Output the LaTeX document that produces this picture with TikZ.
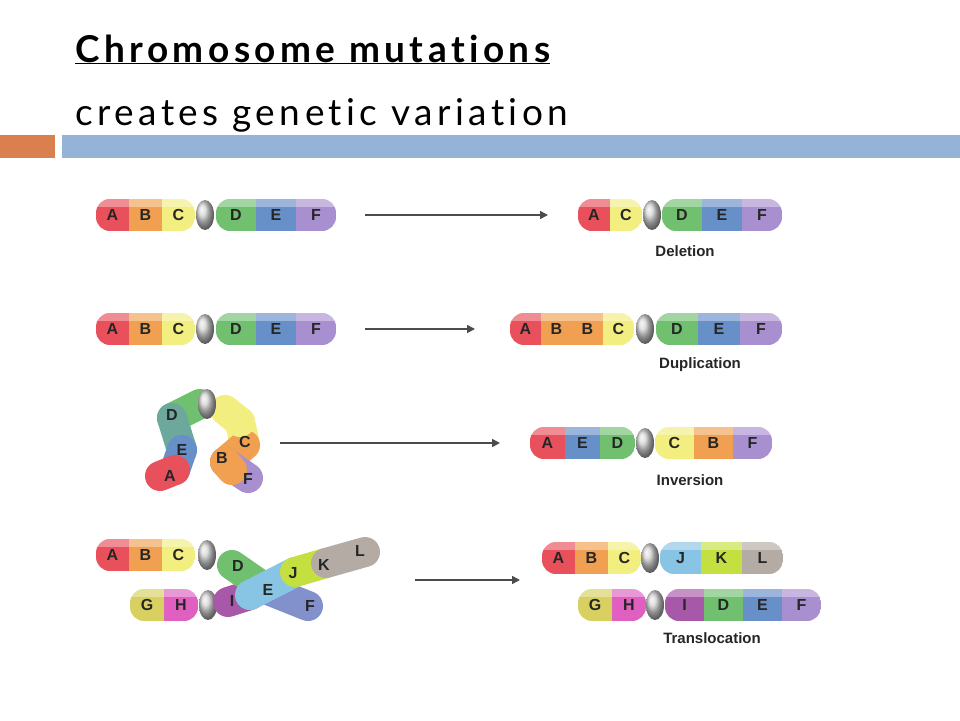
\documentclass[tikz,border=0pt]{standalone}
\usepackage{fontspec}
\setmainfont{Lato}
\newfontfamily\tfont[LetterSpace=12,Ligatures=NoCommon]{Lato}
\newfontfamily\lab{Liberation Sans}
\usetikzlibrary{arrows.meta}
\definecolor{cA}{HTML}{E8505B}\definecolor{cB}{HTML}{F0A050}\definecolor{cC}{HTML}{F2EE80}
\definecolor{cD}{HTML}{70C070}\definecolor{cE}{HTML}{6890C8}\definecolor{cF}{HTML}{A890D0}
\definecolor{cG}{HTML}{D8D060}\definecolor{cH}{HTML}{E060C0}\definecolor{cI}{HTML}{A858A8}
\definecolor{cJ}{HTML}{88C4E4}\definecolor{cK}{HTML}{C4E040}\definecolor{cL}{HTML}{B4ACA4}
\definecolor{barb}{HTML}{94B3D6}\definecolor{baro}{HTML}{D9804E}
\tikzset{lt/.style={font=\lab\bfseries\fontsize{16}{16}\selectfont,text=black!85,inner sep=0pt},
 arr/.style={draw=black!70,line width=1.6pt,-{Triangle[length=8pt,width=8pt]}},
 tl/.style={font=\lab\bfseries\fontsize{15}{15}\selectfont,text=black!85}}
\newcommand\arm[5]{\begin{scope}\clip[rounded corners=14pt] (#1,#4-16) rectangle ({#1+#2*#3},#4+16);
\foreach \l/\c [count=\i] in {#5}{\fill[\c] ({#1+(\i-1)*#2},#4-16) rectangle ++(#2,32); \node[lt] at ({#1+(\i-0.5)*#2},#4) {\l};}
\fill[white,opacity=.35] (#1,#4-16) rectangle ({#1+#2*#3},#4-8);
\end{scope}}
\newcommand\cen[2]{\shade[ball color=gray!35] (#1,#2) ellipse (9 and 15);}
\newcommand\seg[3]{\draw[line width=30pt,line cap=round,#3] #1 -- #2;}
\begin{document}
\begin{tikzpicture}[x=1pt,y=-1pt]
\useasboundingbox (0,0) rectangle (960,720);
\fill[white] (0,0) rectangle (960,720);
\node[anchor=base west,inner sep=0pt,font=\tfont\bfseries\fontsize{37}{37}\selectfont] (t1) at (75,62) {\underline{Chromosome mutations}};
\node[anchor=base west,inner sep=0pt,font=\tfont\fontsize{37}{37}\selectfont] (t2) at (75,125) {creates genetic variation};
\fill[baro] (0,135) rectangle (55,158);
\fill[barb] (62,135) rectangle (960,158);
% row 1
\arm{96}{33}{3}{215}{A/cA,B/cB,C/cC}\cen{205}{215}\arm{216}{40}{3}{215}{D/cD,E/cE,F/cF}
\draw[arr] (365,215) -- (548,215);
\arm{578}{32}{2}{215}{A/cA,C/cC}\cen{652}{215}\arm{662}{40}{3}{215}{D/cD,E/cE,F/cF}
\node[tl] at (685,251) {Deletion};
% row 2
\arm{96}{33}{3}{329}{A/cA,B/cB,C/cC}\cen{205}{329}\arm{216}{40}{3}{329}{D/cD,E/cE,F/cF}
\draw[arr] (365,329) -- (475,329);
\arm{510}{31}{4}{329}{A/cA,B/cB,B/cB,C/cC}\cen{645}{329}\arm{656}{42}{3}{329}{D/cD,E/cE,F/cF}
\node[tl] at (700,365) {Duplication};
% row 3
\seg{(240,422)}{(245,445)}{cC}
\seg{(245,445)}{(225,462)}{cB}
\seg{(225,462)}{(248,478)}{cF}
\seg{(200,404)}{(172,418)}{cD}
\seg{(172,418)}{(182,450)}{cD!50!cE}
\seg{(182,450)}{(175,470)}{cE}
\seg{(175,470)}{(160,476)}{cA}
\seg{(225,462)}{(232,470)}{cB}
\seg{(225,410)}{(240,422)}{cC}
\cen{207}{404}
\node[lt] at (172,415) {D};\node[lt] at (245,442) {C};\node[lt] at (182,450) {E};
\node[lt] at (222,458) {B};\node[lt] at (170,476) {A};\node[lt] at (248,479) {F};
\draw[arr] (280,443) -- (500,443);
\arm{530}{35}{3}{443}{A/cA,E/cE,D/cD}\cen{645}{443}\arm{655}{39}{3}{443}{C/cC,B/cB,F/cF}
\node[tl] at (690,480) {Inversion};
% row 4
\arm{130}{34}{2}{605}{G/cG,H/cH}\cen{208}{605}
\seg{(228,602)}{(250,595)}{cI}
\seg{(232,565)}{(268,590)}{cD}
\seg{(268,590)}{(308,606)}{cE!60!cF}
\seg{(250,595)}{(295,572)}{cJ}
\seg{(295,572)}{(326,563)}{cK}
\seg{(326,563)}{(365,552)}{cL}
\arm{96}{33}{3}{555}{A/cA,B/cB,C/cC}\cen{207}{555}
\node[lt] at (238,566) {D};\node[lt] at (268,590) {E};\node[lt] at (310,606) {F};
\node[lt] at (232,601) {I};\node[lt] at (293,573) {J};\node[lt] at (324,565) {K};\node[lt] at (360,551) {L};
\draw[arr] (415,580) -- (520,580);
\arm{542}{33}{3}{558}{A/cA,B/cB,C/cC}\cen{650}{558}\arm{660}{41}{3}{558}{J/cJ,K/cK,L/cL}
\arm{578}{34}{2}{605}{G/cG,H/cH}\cen{655}{605}\arm{665}{39}{4}{605}{I/cI,D/cD,E/cE,F/cF}
\node[tl] at (712,638) {Translocation};
\end{tikzpicture}
\end{document}
